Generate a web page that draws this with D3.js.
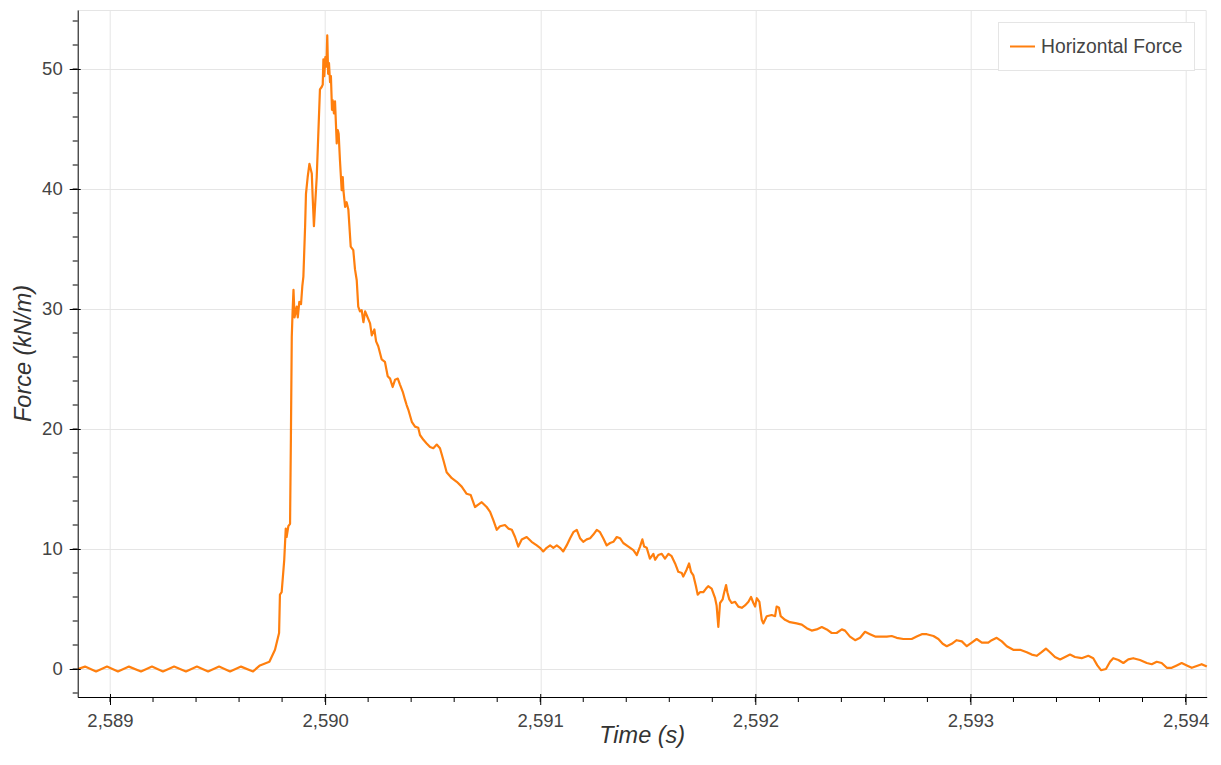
<!DOCTYPE html>
<html>
<head>
<meta charset="utf-8">
<script src="https://cdn.jsdelivr.net/npm/d3@7"></script>
<style>
  body { margin: 0; background: #fff; }
  text { font-family: "Liberation Sans", Arial, Helvetica, sans-serif; }
  .tick-label text { fill: #444; font-size: 18.5px; }
  .axis path, .axis line { stroke: #000; }
  .grid line { stroke: #e5e5e5; }
</style>
</head>
<body>
<div id="chart"></div>
<script>

// time of each sample (s)
var time_values = [
  2588.851, 2588.884, 2588.935, 2588.986, 2589.037, 2589.088, 2589.144, 2589.195,
  2589.246, 2589.298, 2589.353, 2589.404, 2589.456, 2589.507, 2589.558, 2589.609,
  2589.665, 2589.697, 2589.741, 2589.767, 2589.786, 2589.790, 2589.798, 2589.810,
  2589.817, 2589.821, 2589.829, 2589.837, 2589.841, 2589.845, 2589.849, 2589.853,
  2589.858, 2589.868, 2589.873, 2589.880, 2589.888, 2589.894, 2589.899, 2589.907,
  2589.911, 2589.919, 2589.927, 2589.938, 2589.942, 2589.948, 2589.953, 2589.961,
  2589.968, 2589.976, 2589.984, 2589.989, 2589.992, 2589.996, 2590.001, 2590.006,
  2590.010, 2590.014, 2590.018, 2590.023, 2590.027, 2590.032, 2590.035, 2590.041,
  2590.046, 2590.054, 2590.059, 2590.063, 2590.069, 2590.077, 2590.082, 2590.085,
  2590.093, 2590.100, 2590.108, 2590.119, 2590.131, 2590.139, 2590.147, 2590.154,
  2590.162, 2590.170, 2590.178, 2590.186, 2590.193, 2590.209, 2590.217, 2590.229,
  2590.237, 2590.247, 2590.263, 2590.278, 2590.291, 2590.302, 2590.314, 2590.325,
  2590.338, 2590.348, 2590.361, 2590.372, 2590.379, 2590.387, 2590.403, 2590.418,
  2590.433, 2590.441, 2590.457, 2590.472, 2590.488, 2590.503, 2590.519, 2590.534,
  2590.550, 2590.565, 2590.589, 2590.612, 2590.635, 2590.658, 2590.677, 2590.697,
  2590.712, 2590.728, 2590.751, 2590.767, 2590.782, 2590.798, 2590.813, 2590.836,
  2590.852, 2590.868, 2590.883, 2590.898, 2590.914, 2590.937, 2590.960, 2590.984,
  2590.999, 2591.014, 2591.030, 2591.046, 2591.061, 2591.077, 2591.092, 2591.107,
  2591.123, 2591.139, 2591.154, 2591.170, 2591.185, 2591.200, 2591.216, 2591.232,
  2591.247, 2591.263, 2591.278, 2591.293, 2591.309, 2591.325, 2591.340, 2591.356,
  2591.371, 2591.386, 2591.410, 2591.433, 2591.449, 2591.464, 2591.475, 2591.483,
  2591.495, 2591.510, 2591.526, 2591.534, 2591.549, 2591.565, 2591.580, 2591.596,
  2591.611, 2591.627, 2591.642, 2591.658, 2591.665, 2591.681, 2591.692, 2591.701,
  2591.712, 2591.724, 2591.732, 2591.743, 2591.758, 2591.771, 2591.781, 2591.797,
  2591.813, 2591.820, 2591.828, 2591.836, 2591.848, 2591.854, 2591.864, 2591.870,
  2591.879, 2591.890, 2591.906, 2591.921, 2591.937, 2591.952, 2591.968, 2591.980,
  2591.991, 2591.999, 2592.007, 2592.019, 2592.030, 2592.037, 2592.053, 2592.076,
  2592.092, 2592.099, 2592.110, 2592.118, 2592.138, 2592.161, 2592.192, 2592.216,
  2592.239, 2592.262, 2592.285, 2592.309, 2592.332, 2592.355, 2592.378, 2592.402,
  2592.417, 2592.440, 2592.464, 2592.487, 2592.510, 2592.533, 2592.557, 2592.580,
  2592.611, 2592.634, 2592.657, 2592.688, 2592.727, 2592.750, 2592.774, 2592.797,
  2592.828, 2592.851, 2592.871, 2592.890, 2592.913, 2592.936, 2592.960, 2592.983,
  2593.006, 2593.029, 2593.053, 2593.083, 2593.099, 2593.122, 2593.146, 2593.169,
  2593.199, 2593.231, 2593.262, 2593.285, 2593.308, 2593.331, 2593.351, 2593.370,
  2593.393, 2593.417, 2593.440, 2593.463, 2593.486, 2593.517, 2593.548, 2593.571,
  2593.590, 2593.607, 2593.630, 2593.649, 2593.664, 2593.688, 2593.711, 2593.734,
  2593.757, 2593.788, 2593.820, 2593.843, 2593.866, 2593.889, 2593.913, 2593.936,
  2593.959, 2593.982, 2594.006, 2594.029, 2594.052, 2594.075, 2594.099
];

// horizontal force (kN/m)
var force_values = [
  0.0, 0.2, -0.2, 0.2, -0.2, 0.2, -0.2, 0.2,
  -0.2, 0.2, -0.2, 0.2, -0.2, 0.2, -0.2, 0.2,
  -0.2, 0.3, 0.6, 1.6, 3.0, 6.2, 6.4, 9.1,
  11.7, 11.0, 11.9, 12.1, 19.4, 27.7, 29.9, 31.6,
  29.3, 30.2, 29.3, 30.6, 30.4, 31.9, 32.7, 36.9,
  39.6, 41.0, 42.1, 41.3, 39.4, 36.9, 38.5, 41.0,
  44.4, 48.3, 48.5, 48.7, 50.8, 49.4, 51.0, 50.2,
  52.8, 49.6, 50.5, 48.9, 49.4, 46.6, 47.4, 46.3,
  47.3, 43.8, 44.9, 44.6, 42.4, 39.9, 41.0, 39.9,
  38.5, 38.9, 38.3, 35.2, 34.9, 33.3, 32.4, 30.2,
  29.8, 29.9, 28.9, 29.8, 29.5, 28.8, 27.8, 28.3,
  27.3, 26.9, 25.8, 25.6, 24.4, 24.2, 23.5, 24.1,
  24.2, 23.7, 23.1, 22.4, 22.0, 21.6, 20.6, 20.2,
  20.1, 19.5, 19.1, 18.8, 18.5, 18.4, 18.7, 18.4,
  17.4, 16.4, 15.9, 15.6, 15.2, 14.6, 14.5, 13.5,
  13.7, 13.9, 13.5, 13.1, 12.4, 11.6, 11.9, 12.0,
  11.7, 11.6, 11.0, 10.2, 10.8, 11.0, 10.6, 10.3,
  10.1, 9.8, 10.1, 10.3, 10.1, 10.3, 10.1, 9.8,
  10.3, 10.9, 11.4, 11.6, 10.9, 10.6, 10.8, 10.9,
  11.2, 11.6, 11.4, 10.9, 10.3, 10.5, 10.6, 11.0,
  10.9, 10.5, 10.2, 9.9, 9.5, 10.2, 10.8, 10.2,
  10.1, 9.2, 9.6, 9.1, 9.5, 9.6, 9.2, 9.6,
  9.4, 8.8, 8.1, 8.0, 7.7, 8.3, 8.8, 8.1,
  7.8, 6.9, 6.2, 6.4, 6.4, 6.7, 6.9, 6.7,
  5.9, 5.3, 3.5, 5.5, 5.8, 6.3, 7.0, 6.4,
  5.8, 5.5, 5.6, 5.2, 5.1, 5.3, 5.6, 6.0,
  5.5, 5.2, 5.9, 5.6, 4.1, 3.8, 4.4, 4.5,
  4.4, 5.2, 5.1, 4.4, 4.1, 3.9, 3.8, 3.7,
  3.4, 3.2, 3.3, 3.5, 3.3, 3.0, 3.0, 3.3,
  3.2, 2.7, 2.4, 2.6, 3.1, 2.9, 2.7, 2.7,
  2.7, 2.75, 2.6, 2.5, 2.5, 2.7, 2.9, 2.9,
  2.75, 2.5, 2.1, 1.9, 2.1, 2.4, 2.3, 1.9,
  2.2, 2.5, 2.2, 2.2, 2.4, 2.6, 2.3, 1.9,
  1.6, 1.6, 1.4, 1.2, 1.1, 1.4, 1.7, 1.4,
  1.0, 0.8, 1.0, 1.2, 1.0, 0.9, 1.1, 0.9,
  0.3, -0.1, 0.0, 0.6, 0.9, 0.75, 0.5, 0.8,
  0.9, 0.75, 0.5, 0.4, 0.6, 0.5, 0.1, 0.1,
  0.3, 0.5, 0.3, 0.1, 0.25, 0.4, 0.2
];

var x_ticks = [2589, 2590, 2591, 2592, 2593, 2594];
var y_ticks = [0, 10, 20, 30, 40, 50];
var series_name = "Horizontal Force";

// plot parameters
var total_width = 1221,
    total_height = 765;
var margin = {top: 10, right: 14.3, bottom: 68, left: 77.7},
    width = total_width - margin.left - margin.right,
    height = total_height - margin.top - margin.bottom;

var line_colour = "#ff7f0e";

var svg = d3.select("#chart").append("svg")
    .attr("width", total_width)
    .attr("height", total_height)
  .append("g")
    .attr("transform", "translate(" + margin.left + "," + margin.top + ")");

// scales
var x = d3.scaleLinear()
    .domain([2588.8498, 2594.0984])
    .range([0, width]);
var y = d3.scaleLinear()
    .domain([-2.333, 54.917])
    .range([height, 0]);

// grid lines
svg.append("g").attr("class", "grid")
  .selectAll("line").data(x_ticks).enter().append("line")
    .attr("x1", function(d) { return Math.round(x(d)) + 0.5; })
    .attr("x2", function(d) { return Math.round(x(d)) + 0.5; })
    .attr("y1", 0).attr("y2", height);
svg.append("g").attr("class", "grid")
  .selectAll("line").data(y_ticks).enter().append("line")
    .attr("y1", function(d) { return Math.round(y(d)) + 0.5; })
    .attr("y2", function(d) { return Math.round(y(d)) + 0.5; })
    .attr("x1", 0).attr("x2", width);

// outline on top and right
svg.append("path")
    .attr("d", "M0,0.5H" + (width - 0.5) + "V" + height)
    .attr("fill", "none")
    .attr("stroke", "#e5e5e5");

// the data line
var line = d3.line()
    .x(function(d, i) { return x(time_values[i]); })
    .y(function(d) { return y(d); });

svg.append("path")
    .datum(force_values)
    .attr("d", line)
    .attr("fill", "none")
    .attr("stroke", line_colour)
    .attr("stroke-width", 2.2)
    .attr("stroke-linejoin", "round");

// minor ticks
var x_minor = d3.range(2588.8, 2594.2, 0.2).filter(function(d) {
  return x(d) >= -0.5 && x(d) <= width + 0.5;
});
var y_minor = d3.range(-2, 55, 2);

// x axis
var x_axis = svg.append("g")
    .attr("class", "axis tick-label")
    .attr("transform", "translate(0," + height + ")")
    .call(d3.axisBottom(x).tickValues(x_ticks).tickSize(8).tickSizeOuter(0)
      .tickPadding(5).tickFormat(d3.format(",")));
x_axis.selectAll(".tick text").attr("dy", "0.9em");
x_axis.selectAll(".tick").append("line").attr("y2", -3).attr("stroke", "#000");
x_axis.selectAll(".minor").data(x_minor).enter().append("line")
    .attr("class", "minor")
    .attr("x1", function(d) { return x(d); })
    .attr("x2", function(d) { return x(d); })
    .attr("y1", 0).attr("y2", 5)
    .attr("stroke", "#000");

// y axis
var y_axis = svg.append("g")
    .attr("class", "axis tick-label")
    .call(d3.axisLeft(y).tickValues(y_ticks).tickSize(8).tickSizeOuter(0)
      .tickPadding(7));
y_axis.selectAll(".tick").append("line").attr("x2", 3).attr("stroke", "#000");
y_axis.selectAll(".minor").data(y_minor).enter().append("line")
    .attr("class", "minor")
    .attr("y1", function(d) { return y(d); })
    .attr("y2", function(d) { return y(d); })
    .attr("x1", 0).attr("x2", -5)
    .attr("stroke", "#000");

// axis titles
svg.append("text")
    .attr("x", width / 2)
    .attr("y", height + 46)
    .attr("text-anchor", "middle")
    .style("font-size", "23.5px")
    .style("font-style", "italic")
    .style("fill", "#333")
    .text("Time (s)");

svg.append("text")
    .attr("transform", "translate(" + (31.5 - margin.left) + "," + (height / 2) + ") rotate(-90)")
    .attr("text-anchor", "middle")
    .style("font-size", "23.5px")
    .style("font-style", "italic")
    .style("fill", "#333")
    .text("Force (kN/m)");

// legend
var legend = svg.append("g")
    .attr("transform", "translate(" + (998 - margin.left) + "," + (22 - margin.top) + ")");
legend.append("rect")
    .attr("x", 0.5).attr("y", 0.5)
    .attr("width", 196).attr("height", 48)
    .attr("fill", "#fff")
    .attr("stroke", "#e5e5e5");
legend.append("line")
    .attr("x1", 12).attr("x2", 37)
    .attr("y1", 24.5).attr("y2", 24.5)
    .attr("stroke", line_colour)
    .attr("stroke-width", 2);
legend.append("text")
    .attr("x", 43).attr("y", 31)
    .style("font-size", "19.3px")
    .style("fill", "#444")
    .text(series_name);

</script>
</body>
</html>
